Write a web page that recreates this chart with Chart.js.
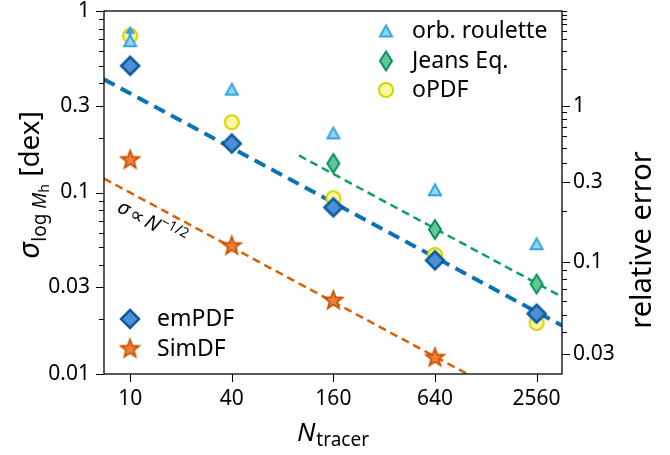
<!DOCTYPE html>
<html><head><meta charset="utf-8">
<script src="https://cdn.jsdelivr.net/npm/chart.js@4/dist/chart.umd.min.js"></script>
<style>html,body{margin:0;padding:0;background:#fff}</style>
</head><body>
<canvas id="c" width="670" height="455"></canvas>
<script>
// ---- data ----
const nTracer = [10, 40, 160, 640, 2560];
const orbRoulette = [0.686, 0.371, 0.213, 0.1035, 0.0522];
const orbArrowTip = 0.83;          // lower-limit arrow at N=10
const jeansEq = [null, null, 0.1446, 0.0625, 0.0313];
const oPDF = [0.73, 0.244, 0.093, 0.0453, 0.0191];
const emPDF = [0.499, 0.186, 0.0828, 0.0423, 0.0215];
const simDF = [0.151, 0.0507, 0.0254, 0.01228, null];
const fitEmN = [7, 3620], fitEmSigma = [0.42, 0.0185];
const fitJeansN = [100, 3620], fitJeansSigma = [0.160, 0.0266];
const fitSimN = [7, 1000], fitSimSigma = [0.1193, 0.00998];
const xTickVals = [10, 40, 160, 640, 2560];
const yTickVals = [0.01, 0.03, 0.1, 0.3, 1];
const yMinorVals = [0.02,0.04,0.05,0.06,0.07,0.08,0.09,0.2,0.4,0.5,0.6,0.7,0.8,0.9];
const relErrTicks = [0.03, 0.1, 0.3, 1];
const relErrMinor = [0.04,0.05,0.06,0.07,0.08,0.09,0.2,0.4,0.5,0.6,0.7,0.8,0.9,2,3,4,5,6,7,8,9];

const FONT = "'Noto Sans', 'Open Sans', sans-serif";
const C = {
  orb:   {fill:'#8fd9f6', edge:'#3aa2dd'},
  jeans: {fill:'#5ccb98', edge:'#0e8a5c', line:'#0a9e6e'},
  opdf:  {fill:'#fbfa9e', edge:'#d8d000'},
  em:    {fill:'#4d8fd6', edge:'#0b5b9c', line:'#0b72b5'},
  sim:   {fill:'#f07f3e', edge:'#c95200', line:'#d95f02'}
};

function mk(kind, fill, stroke, lw, w, h) {
  const pad = Math.ceil(lw) + 1;
  const c = document.createElement('canvas');
  c.width = Math.ceil(w) + 2*pad; c.height = Math.ceil(h) + 2*pad;
  const g = c.getContext('2d');
  const cx = c.width/2, cy = c.height/2;
  g.beginPath();
  if (kind === 'tri') {
    g.moveTo(cx, cy - h/2); g.lineTo(cx + w/2, cy + h/2); g.lineTo(cx - w/2, cy + h/2); g.closePath();
  } else if (kind === 'dia') {
    g.moveTo(cx, cy - h/2); g.lineTo(cx + w/2, cy); g.lineTo(cx, cy + h/2); g.lineTo(cx - w/2, cy); g.closePath();
  } else if (kind === 'circ') {
    g.arc(cx, cy, w/2, 0, 2*Math.PI);
  } else if (kind === 'star') {
    const R = w/2, r = R*0.42;
    for (let i = 0; i < 10; i++) {
      const a = -Math.PI/2 + i*Math.PI/5, rr = (i % 2) ? r : R;
      g.lineTo(cx + rr*Math.cos(a), cy + rr*Math.sin(a));
    }
    g.closePath();
  }
  g.fillStyle = fill; g.fill();
  g.lineWidth = lw; g.strokeStyle = stroke; g.lineJoin = 'miter'; g.stroke();
  return c;
}
const M = {
  orb: mk('tri', C.orb.fill, C.orb.edge, 2, 12, 11),
  jeans: mk('dia', C.jeans.fill, C.jeans.edge, 2, 12, 19),
  opdf: mk('circ', C.opdf.fill, C.opdf.edge, 2, 14, 14),
  em: mk('dia', C.em.fill, C.em.edge, 2.5, 18, 18),
  sim: mk('star', C.sim.fill, C.sim.edge, 1.8, 19, 19)
};

const pts = (xs, ys) => xs.map((x, i) => ({x, y: ys[i]})).filter(p => p.y != null);
const scat = (label, ys, img, order) => ({type:'scatter', label, data: pts(nTracer, ys), pointStyle: img, pointRadius: 10, order, showLine:false});
const fit = (xs, ys, color, w, dash) => ({type:'line', data: pts(xs, ys), borderColor: color, borderWidth: w, borderDash: dash, pointRadius: 0, fill:false, order: 10, tension: 0});

function rich(ctx, parts, x, y, rot, align) {
  ctx.save(); ctx.translate(x, y); ctx.rotate(rot);
  ctx.textAlign = 'left'; ctx.textBaseline = 'alphabetic'; ctx.fillStyle = '#000';
  let w = 0;
  for (const p of parts) { ctx.font = p.font; w += ctx.measureText(p.t).width + (p.gap || 0); }
  let cx = align === 'center' ? -w/2 : 0;
  for (const p of parts) { ctx.font = p.font; ctx.fillText(p.t, cx, p.dy || 0); cx += ctx.measureText(p.t).width + (p.gap || 0); }
  ctx.restore();
}

const decor = {
  id: 'decor',
  afterDatasetsDraw(chart) {
    const ctx = chart.ctx, x = chart.scales.x, y = chart.scales.y;
    const ax = x.getPixelForValue(nTracer[0]);
    const y0 = y.getPixelForValue(orbRoulette[0]), y1 = y.getPixelForValue(orbArrowTip);
    ctx.save();
    ctx.strokeStyle = C.orb.edge; ctx.lineWidth = 3;
    ctx.beginPath(); ctx.moveTo(ax, y0 - 4); ctx.lineTo(ax, y1 + 6); ctx.stroke();
    ctx.beginPath(); ctx.moveTo(ax, y1); ctx.lineTo(ax + 5, y1 + 8); ctx.lineTo(ax - 5, y1 + 8); ctx.closePath();
    ctx.fillStyle = C.orb.edge; ctx.fill();
    ctx.restore();
  },
  afterDraw(chart) {
    const ctx = chart.ctx, a = chart.chartArea;
    const x = chart.scales.x, y = chart.scales.y, y2 = chart.scales.y2;
    ctx.save();
    ctx.strokeStyle = '#000'; ctx.lineWidth = 1.3;
    ctx.strokeRect(a.left, a.top, a.right - a.left, a.bottom - a.top);
    ctx.lineWidth = 1.1;
    ctx.beginPath();
    for (const v of xTickVals) { const px = Math.round(x.getPixelForValue(v)) + 0.5; ctx.moveTo(px, a.bottom); ctx.lineTo(px, a.bottom + 8); }
    for (const v of yTickVals) { const py = Math.round(y.getPixelForValue(v)) + 0.5; ctx.moveTo(a.left, py); ctx.lineTo(a.left - 8, py); }
    for (const v of yMinorVals) { const py = Math.round(y.getPixelForValue(v)) + 0.5; ctx.moveTo(a.left, py); ctx.lineTo(a.left - 5, py); }
    for (const r of relErrTicks) { const py = Math.round(y2.getPixelForValue(Math.log10(1 + r))) + 0.5; ctx.moveTo(a.right, py); ctx.lineTo(a.right + 8, py); }
    for (const r of relErrMinor) { const py = Math.round(y2.getPixelForValue(Math.log10(1 + r))) + 0.5; ctx.moveTo(a.right, py); ctx.lineTo(a.right + 5, py); }
    ctx.stroke();
    ctx.restore();

    rich(ctx, [
      {t:'N', font:`italic 26px ${FONT}`, gap:1},
      {t:'tracer', font:`19px ${FONT}`, dy:5}
    ], (a.left + a.right)/2, 441, 0, 'center');
    rich(ctx, [
      {t:'σ', font:`italic 29px ${FONT}`, gap:1},
      {t:'log ', font:`19px ${FONT}`, dy:7},
      {t:'M', font:`italic 19px ${FONT}`, dy:7},
      {t:'h', font:`14px ${FONT}`, dy:10},
      {t:' [dex]', font:`28px ${FONT}`}
    ], 39, 185, -Math.PI/2, 'center');
    rich(ctx, [{t:'relative error', font:`29px ${FONT}`}], 651, 240, -Math.PI/2, 'center');

    rich(ctx, [
      {t:'σ', font:`italic 20px ${FONT}`, gap:3},
      {t:'∝', font:`20px ${FONT}`, gap:3},
      {t:'N', font:`italic 20px ${FONT}`},
      {t:'−1/2', font:`14px ${FONT}`, dy:-9}
    ], 116, 211, Math.atan(0.542), 'left');

    const leg = (img, label, mx, my, tx) => {
      ctx.drawImage(img, mx - img.width/2, my - img.height/2);
      ctx.font = `23px ${FONT}`; ctx.fillStyle = '#000'; ctx.textAlign = 'left'; ctx.textBaseline = 'middle';
      ctx.fillText(label, tx, my);
    };
    leg(M.orb, 'orb. roulette', 386, 31, 412);
    leg(M.jeans, 'Jeans Eq.', 386, 61, 412);
    leg(M.opdf, 'oPDF', 386, 90, 412);
    leg(M.em, 'emPDF', 130, 319, 157);
    leg(M.sim, 'SimDF', 130, 349, 157);
  }
};

const tickFont = {family: FONT, size: 21};
const noPadV = s => { s.paddingTop = 0; s.paddingBottom = 0; };
new Chart(document.getElementById('c'), {
  data: {
    datasets: [
      fit(fitEmN, fitEmSigma, C.em.line, 4, [12, 7]),
      fit(fitJeansN, fitJeansSigma, C.jeans.line, 2.5, [8, 5]),
      fit(fitSimN, fitSimSigma, C.sim.line, 2.5, [8, 5]),
      scat('oPDF', oPDF, M.opdf, 4),
      scat('orb. roulette', orbRoulette, M.orb, 3),
      scat('Jeans Eq.', jeansEq, M.jeans, 2),
      scat('emPDF', emPDF, M.em, 1),
      scat('SimDF', simDF, M.sim, 1)
    ]
  },
  options: {
    responsive: false, animation: false, devicePixelRatio: 1,
    layout: {padding: {top: 8, left: 0, right: 0, bottom: 0}},
    plugins: {legend: {display: false}, tooltip: {enabled: false}},
    scales: {
      x: {
        type: 'logarithmic', min: 7, max: 3620, bounds: 'data',
        grid: {display: false, drawTicks: false}, border: {display: false},
        ticks: {font: tickFont, color: '#000', padding: 12, autoSkip: false, maxRotation: 0, callback: v => String(v)},
        afterBuildTicks: s => { s.ticks = xTickVals.map(v => ({value: v})); },
        afterFit: s => { s.height = 81; s.paddingLeft = 0; s.paddingRight = 0; }
      },
      y: {
        type: 'logarithmic', position: 'left', min: 0.01, max: 1, bounds: 'data',
        grid: {display: false, drawTicks: false}, border: {display: false},
        ticks: {font: tickFont, color: '#000', padding: 14, autoSkip: false, callback: v => String(v)},
        afterBuildTicks: s => { s.ticks = yTickVals.map(v => ({value: v})); },
        afterFit: s => { s.width = 104; noPadV(s); }
      },
      y2: {
        type: 'logarithmic', position: 'right', min: 0.01, max: 1, bounds: 'data',
        grid: {display: false, drawTicks: false}, border: {display: false},
        ticks: {font: tickFont, color: '#000', padding: 11, autoSkip: false, callback: (v, i) => String(relErrTicks[i])},
        afterBuildTicks: s => { s.ticks = relErrTicks.map(r => ({value: Math.log10(1 + r)})); },
        afterFit: s => { s.width = 108; noPadV(s); }
      }
    }
  },
  plugins: [decor]
});
</script>
</body></html>
